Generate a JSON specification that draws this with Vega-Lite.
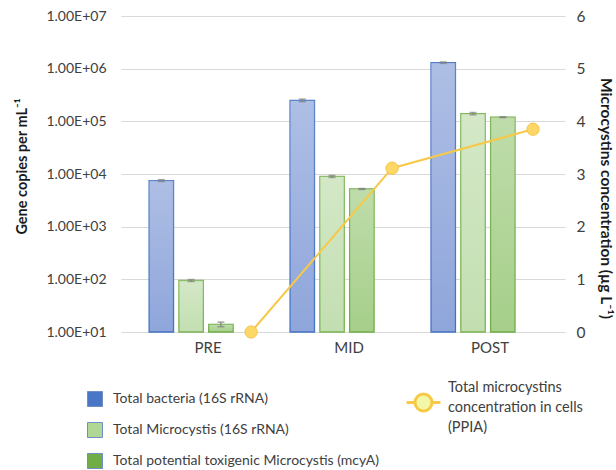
{
  "$schema": "https://vega.github.io/schema/vega-lite/v6.json",
  "width": 444,
  "height": 316,
  "autosize": {"type": "none"},
  "padding": {"left": 121, "top": 16, "right": 51, "bottom": 138},
  "background": "white",
  "config": {
    "view": {"stroke": null},
    "font": "Lato",
    "axis": {"labelFont": "Lato", "titleFont": "Lato", "labelColor": "#404040", "titleColor": "#1a1a1a"},
    "legend": {"labelFont": "Lato"}
  },
  "datasets": {
    "genes": [
      {"phase": "PRE", "series": "Total bacteria (16S rRNA)", "copies": 7500, "lo": 7200, "hi": 7800},
      {"phase": "PRE", "series": "Total Microcystis (16S rRNA)", "copies": 95, "lo": 91, "hi": 99},
      {"phase": "PRE", "series": "Total potential toxigenic Microcystis (mcyA)", "copies": 14, "lo": 12.6, "hi": 15.4},
      {"phase": "MID", "series": "Total bacteria (16S rRNA)", "copies": 250000, "lo": 236000, "hi": 264000},
      {"phase": "MID", "series": "Total Microcystis (16S rRNA)", "copies": 9000, "lo": 8600, "hi": 9400},
      {"phase": "MID", "series": "Total potential toxigenic Microcystis (mcyA)", "copies": 5200, "lo": 5100, "hi": 5300},
      {"phase": "POST", "series": "Total bacteria (16S rRNA)", "copies": 1300000, "lo": 1260000, "hi": 1340000},
      {"phase": "POST", "series": "Total Microcystis (16S rRNA)", "copies": 140000, "lo": 133000, "hi": 147000},
      {"phase": "POST", "series": "Total potential toxigenic Microcystis (mcyA)", "copies": 120000, "lo": 118000, "hi": 122000}
    ],
    "toxin": [
      {"phase": "PRE", "mc": 0},
      {"phase": "MID", "mc": 3.11},
      {"phase": "POST", "mc": 3.85}
    ]
  },
  "layer": [
    {
      "data": {"name": "genes"},
      "encoding": {
        "x": {
          "field": "phase",
          "type": "nominal",
          "sort": ["PRE", "MID", "POST"],
          "scale": {"domain": ["PRE", "MID", "POST"], "paddingInner": 0.404, "paddingOuter": 0.277, "align": 0.36, "round": false},
          "axis": {"orient": "bottom", "domain": false, "ticks": false, "labelPadding": 8, "labelFontSize": 15, "labelOffset": 17, "labelAngle": 0, "title": null}
        },
        "xOffset": {
          "field": "series",
          "type": "nominal",
          "sort": ["Total bacteria (16S rRNA)", "Total Microcystis (16S rRNA)", "Total potential toxigenic Microcystis (mcyA)"],
          "scale": {"paddingInner": 0.18, "paddingOuter": 0}
        }
      },
      "layer": [
        {
          "mark": {"type": "bar", "strokeWidth": 1.3},
          "encoding": {
            "y": {
              "field": "copies",
              "type": "quantitative",
              "scale": {"type": "log", "domain": [10, 10000000]},
              "axis": {
                "orient": "left",
                "values": [10, 100, 1000, 10000, 100000, 1000000, 10000000],
                "labelExpr": "'1.00E+' + (round(log(datum.value) / LN10) < 10 ? '0' : '') + round(log(datum.value) / LN10)",
                "grid": true,
                "gridColor": "#d9d9d9",
                "gridWidth": 1,
                "domain": false,
                "ticks": false,
                "labelPadding": 15,
                "labelFontSize": 14,
                "title": "Gene copies per mL⁻¹",
                "titleFontSize": 14.5,
                "titleFontWeight": "bold",
                "titleAngle": -90,
                "titleX": -99,
                "titleY": 150,
                "titleBaseline": "middle",
                "titleAlign": "center"
              }
            },
            "y2": {"datum": 10},
            "fill": {
              "field": "series",
              "type": "nominal",
              "scale": {
                "domain": ["Total bacteria (16S rRNA)", "Total Microcystis (16S rRNA)", "Total potential toxigenic Microcystis (mcyA)"],
                "range": ["#8fa6db", "#c3dfb1", "#a6cf8a"]
              },
              "legend": null
            },
            "stroke": {
              "field": "series",
              "type": "nominal",
              "scale": {
                "domain": ["Total bacteria (16S rRNA)", "Total Microcystis (16S rRNA)", "Total potential toxigenic Microcystis (mcyA)"],
                "range": ["#4472c4", "#7cb454", "#70ad47"]
              },
              "legend": null
            }
          }
        },
        {
          "mark": {
            "type": "bar",
            "strokeWidth": 0,
            "fill": {
              "gradient": "linear",
              "x1": 0, "y1": 0, "x2": 0, "y2": 1,
              "stops": [
                {"offset": 0, "color": "rgba(255,255,255,0.28)"},
                {"offset": 1, "color": "rgba(255,255,255,0)"}
              ]
            }
          },
          "encoding": {
            "y": {"field": "copies", "type": "quantitative"},
            "y2": {"datum": 10}
          }
        },
        {
          "mark": {"type": "rule", "color": "#7f7f7f", "strokeWidth": 1.2},
          "encoding": {
            "y": {"field": "lo", "type": "quantitative"},
            "y2": {"field": "hi"}
          }
        },
        {
          "mark": {"type": "tick", "color": "#7f7f7f", "size": 7, "thickness": 1.5, "orient": "horizontal"},
          "encoding": {"y": {"field": "lo", "type": "quantitative"}}
        },
        {
          "mark": {"type": "tick", "color": "#7f7f7f", "size": 7, "thickness": 1.5, "orient": "horizontal"},
          "encoding": {"y": {"field": "hi", "type": "quantitative"}}
        },
        {
          "mark": {"type": "bar", "strokeWidth": 0},
          "encoding": {
            "y": {"datum": 10, "type": "quantitative"},
            "y2": {"datum": 10},
            "color": {
              "field": "series",
              "type": "nominal",
              "sort": ["Total bacteria (16S rRNA)", "Total Microcystis (16S rRNA)", "Total potential toxigenic Microcystis (mcyA)"],
              "scale": {"range": ["#4a76c6", "#b1d797", "#70ad47"]},
              "legend": {
                "orient": "none",
                "legendX": -34,
                "legendY": 375,
                "title": null,
                "direction": "vertical",
                "symbolType": "square",
                "symbolSize": 225,
                "symbolStrokeWidth": 1,
                "symbolStrokeColor": "#6f8fc4",
                "symbolOpacity": 1,
                "labelFontSize": 14,
                "labelColor": "#404040",
                "labelOffset": 10,
                "rowPadding": 11,
                "padding": 0,
                "labelLimit": 400
              }
            }
          }
        }
      ]
    },
    {
      "data": {"name": "toxin"},
      "encoding": {
        "x": {"field": "phase", "type": "nominal", "sort": ["PRE", "MID", "POST"]},
        "y": {
          "field": "mc",
          "type": "quantitative",
          "scale": {"domain": [0, 6]},
          "axis": {
            "orient": "right",
            "values": [0, 1, 2, 3, 4, 5, 6],
            "grid": false,
            "domain": false,
            "ticks": false,
            "labelPadding": 11,
            "labelFontSize": 15.5,
            "title": "Microcystins concentration (µg L⁻¹)",
            "titleFontSize": 15.5,
            "titleFontWeight": "bold",
            "titleAngle": 90,
            "titleX": 40,
            "titleY": 182,
            "titleBaseline": "middle",
            "titleAlign": "center"
          }
        }
      },
      "layer": [
        {
          "mark": {"type": "line", "xOffset": 60, "strokeWidth": 2},
          "encoding": {
            "stroke": {
              "datum": "Total microcystins concentration in cells (PPIA)",
              "type": "nominal",
              "scale": {"domain": ["Total microcystins concentration in cells (PPIA)"], "range": ["#f7c948"]},
              "legend": {
                "orient": "none",
                "legendX": 284,
                "legendY": 368,
                "title": null,
                "symbolType": "M-1,0H-0.5M0.5,0H1M0.5,0A0.5,0.5,0,1,1,-0.5,0A0.5,0.5,0,1,1,0.5,0",
                "symbolSize": 1150,
                "symbolStrokeWidth": 3,
                "labelExpr": "['Total microcystins', 'concentration in cells', '(PPIA)']",
                "labelFontSize": 14.5,
                "labelColor": "#404040",
                "labelOffset": 6,
                "padding": 0,
                "encode": {
                  "labels": {"update": {"lineHeight": {"value": 20}, "dy": {"value": -15}}},
                  "symbols": {
                    "update": {
                      "fill": {"value": "#f3f7a6"},
                      "stroke": {"value": "#ffc000"},
                      "opacity": {"value": 1}
                    }
                  }
                }
              }
            }
          }
        },
        {
          "mark": {"type": "point", "shape": "circle", "filled": true, "size": 150, "xOffset": 60, "fill": "#fdd866", "stroke": "#f5c242", "strokeWidth": 1, "opacity": 1}
        }
      ]
    }
  ],
  "resolve": {
    "scale": {"y": "independent", "stroke": "independent"},
    "legend": {"stroke": "independent"}
  }
}
